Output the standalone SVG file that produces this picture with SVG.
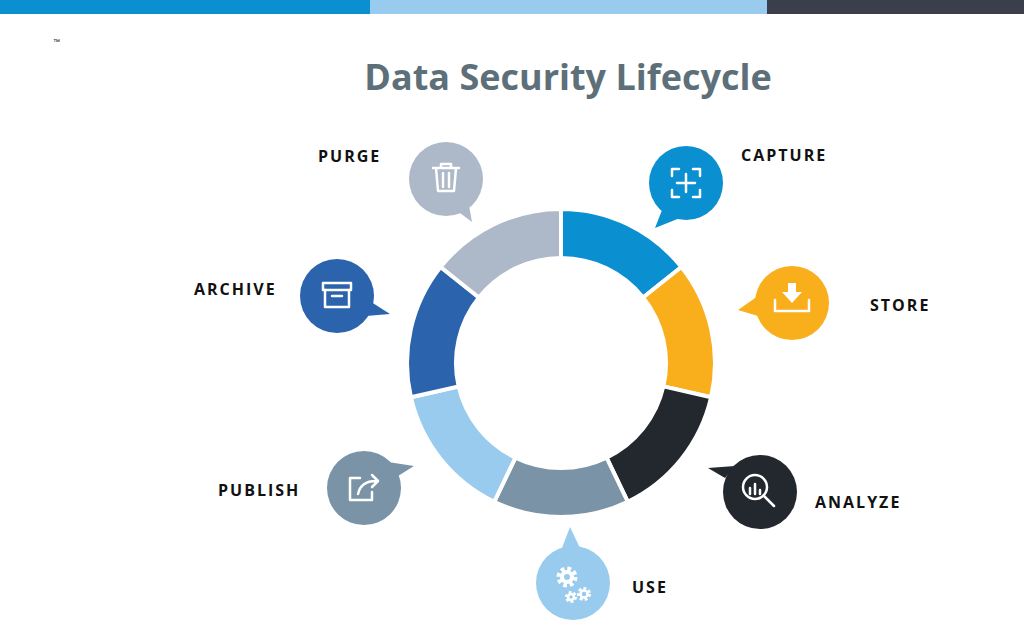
<svg xmlns="http://www.w3.org/2000/svg" width="1024" height="641" viewBox="0 0 1024 641">
<style>
.lbl{font-family:"Open Sans","Liberation Sans",sans-serif;font-weight:bold;font-size:16px;letter-spacing:2px;fill:#111}
.seg{stroke:#fff;stroke-width:4}
.ic{fill:none;stroke:#fff;stroke-width:2.5;stroke-linecap:round;stroke-linejoin:round}
</style>
<rect width="1024" height="641" fill="#fff"/>
<rect x="0" y="0" width="370" height="14" fill="#0a8fd0"/>
<rect x="370" y="0" width="397" height="14" fill="#99cbee"/>
<rect x="767" y="0" width="257" height="14" fill="#3a3f4b"/>
<text x="53" y="44" font-family="Liberation Sans,sans-serif" font-size="7" fill="#000">™</text>
<text x="568" y="90" text-anchor="middle" font-family="Open Sans,Liberation Sans,sans-serif" font-weight="bold" font-size="36" fill="#5d6f78">Data Security Lifecycle</text>
<g id="ring">
<path class="seg" fill="#0a8fd0" d="M561,209 A154,154 0 0 1 681.4,267 L643.1,297.5 A105,105 0 0 0 561,258 Z"/>
<path class="seg" fill="#f9ae1b" d="M681.4,267 A154,154 0 0 1 711.1,397.3 L663.4,386.4 A105,105 0 0 0 643.1,297.5 Z"/>
<path class="seg" fill="#23282f" d="M711.1,397.3 A154,154 0 0 1 627.8,501.8 L606.6,457.6 A105,105 0 0 0 663.4,386.4 Z"/>
<path class="seg" fill="#7a93a6" d="M627.8,501.8 A154,154 0 0 1 494.2,501.8 L515.4,457.6 A105,105 0 0 0 606.6,457.6 Z"/>
<path class="seg" fill="#99cbee" d="M494.2,501.8 A154,154 0 0 1 410.9,397.3 L458.6,386.4 A105,105 0 0 0 515.4,457.6 Z"/>
<path class="seg" fill="#2b63ad" d="M410.9,397.3 A154,154 0 0 1 440.6,267 L478.9,297.5 A105,105 0 0 0 458.6,386.4 Z"/>
<path class="seg" fill="#adb9c9" d="M440.6,267 A154,154 0 0 1 561,209 L561,258 A105,105 0 0 0 478.9,297.5 Z"/>
</g>
<g id="capture">
<circle cx="686" cy="183" r="37" fill="#0a8fd0"/><polygon points="664,205 680,218 655,228" fill="#0a8fd0"/>
<path class="ic" d="M672,176v-7h7M693,169h7v7M700,190v7h-7M679,197h-7v-7M686,174v18M677,183h18"/>
<text class="lbl" x="741" y="161">CAPTURE</text>
</g>
<g id="store">
<circle cx="792" cy="303" r="37" fill="#f9ae1b"/><polygon points="758,296 758,316 738,310" fill="#f9ae1b"/>
<path class="ic" d="M775,300v11h34v-11"/><path d="M788,283h8v9h6l-10,11-10-11h6z" fill="#fff"/>
<text class="lbl" x="870" y="311">STORE</text>
</g>
<g id="analyze">
<circle cx="760" cy="492" r="37" fill="#23282f"/><polygon points="725,478 735,466 708,468" fill="#23282f"/>
<circle class="ic" cx="755" cy="487" r="12"/><path class="ic" d="M764,496l10,10M750,494v-6M755,494v-10M760,494v-4"/>
<text class="lbl" x="815" y="508">ANALYZE</text>
</g>
<g id="use">
<polygon points="562,548 580,548 570,527" fill="#99cbee"/>
<circle cx="573" cy="583" r="37" fill="#99cbee"/>
<circle cx="567" cy="577" r="8" fill="none" stroke="#fff" stroke-width="5" stroke-dasharray="3.5,2.8"/>
<circle cx="567" cy="577" r="5" fill="none" stroke="#fff" stroke-width="4"/>
<circle cx="584" cy="594" r="5" fill="none" stroke="#fff" stroke-width="4" stroke-dasharray="2.5,2"/>
<circle cx="584" cy="594" r="3.5" fill="none" stroke="#fff" stroke-width="2.5"/>
<circle cx="571" cy="597" r="4" fill="none" stroke="#fff" stroke-width="4" stroke-dasharray="2.3,1.8"/>
<circle cx="571" cy="597" r="3" fill="none" stroke="#fff" stroke-width="2.5"/>
<text class="lbl" x="632" y="593">USE</text>
</g>
<g id="publish">
<circle cx="364" cy="488" r="37" fill="#7a93a6"/><polygon points="388,462 398,476 414,466" fill="#7a93a6"/>
<path class="ic" d="M360,478h-10v22h22v-8"/><path class="ic" d="M358,494c2-9 9-13 18-13M372,475l6,6-6,6"/>
<text class="lbl" x="218" y="496">PUBLISH</text>
</g>
<g id="archive">
<circle cx="337" cy="296" r="37" fill="#2b63ad"/><polygon points="368,300 366,316 390,314" fill="#2b63ad"/>
<rect class="ic" x="323" y="283" width="28" height="7"/><path class="ic" d="M325,290v17h24v-17M332,296h10"/>
<text class="lbl" x="194" y="295">ARCHIVE</text>
</g>
<g id="purge">
<circle cx="446" cy="179" r="37" fill="#adb9c9"/><polygon points="456,210 468,200 472,222" fill="#adb9c9"/>
<path class="ic" d="M433,168h26M441,168v-4h10v4M436,168l2,23h16l2-23M443,173v14M449,173v14"/>
<text class="lbl" x="318" y="162">PURGE</text>
</g>
</svg>
